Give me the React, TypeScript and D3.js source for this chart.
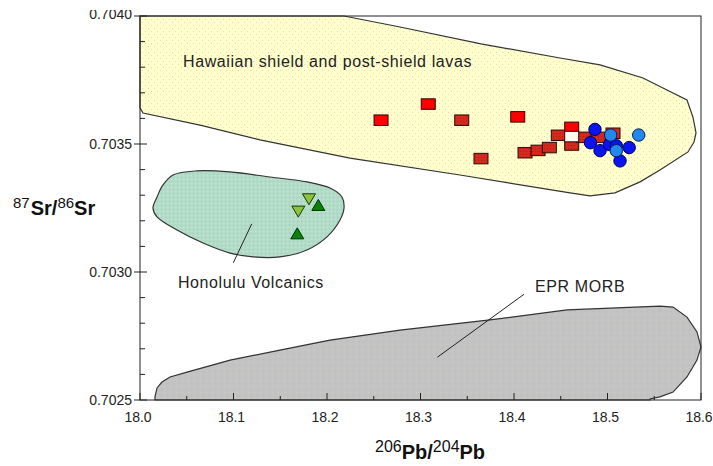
import React from 'react';
import * as d3 from 'd3';

const W = 713;
const H = 466;

const xDomain = [18.0, 18.6];
const yDomain = [0.7025, 0.704];

const xMajorTicks = [18.0, 18.1, 18.2, 18.3, 18.4, 18.5, 18.6];
const xMinorTicks = [18.05, 18.15, 18.25, 18.35, 18.45, 18.55];
const yMajorTicks = [0.7025, 0.703, 0.7035, 0.704];
const yMinorTicks = [0.7026, 0.7027, 0.7028, 0.7029, 0.7031, 0.7032, 0.7033, 0.7034, 0.7036, 0.7037, 0.7038, 0.7039];

// Hawaiian shield field boundary [206Pb/204Pb, 87Sr/86Sr]
const hawaiianField: [number, number][] = [
  [18.0, 0.704], [18.2182, 0.704], [18.2781, 0.703957], [18.3647, 0.703891], [18.4492, 0.703836],
  [18.492, 0.703809], [18.538, 0.703758], [18.5636, 0.703711], [18.585, 0.703672], [18.5914, 0.703605],
  [18.5947, 0.703543], [18.5925, 0.703508], [18.5861, 0.703469], [18.5561, 0.703398], [18.5348, 0.703352],
  [18.508, 0.703309], [18.4813, 0.703297], [18.4599, 0.703309], [18.3422, 0.703379], [18.2246, 0.703445],
  [18.1283, 0.703516], [18.0642, 0.703574], [18.0032, 0.703621], [18.0, 0.703641],
];

const honoluluField: [number, number][] = [
  [18.0353, 0.703379], [18.061, 0.703395], [18.0963, 0.703391], [18.139, 0.703371], [18.1786, 0.703352],
  [18.2032, 0.703328], [18.216, 0.703293], [18.2182, 0.70325], [18.2139, 0.703203], [18.2, 0.703137],
  [18.1786, 0.703086], [18.1497, 0.703059], [18.1209, 0.703059], [18.0963, 0.703074], [18.0674, 0.703113],
  [18.0396, 0.703164], [18.0182, 0.703215], [18.0139, 0.70325], [18.0182, 0.703293], [18.0246, 0.70334],
];

const eprField: [number, number][] = [
  [18.016, 0.7025], [18.016, 0.702512], [18.0182, 0.702547], [18.0235, 0.70257], [18.0321, 0.70259],
  [18.0503, 0.702609], [18.0963, 0.702656], [18.1497, 0.702695], [18.2032, 0.702734], [18.2781, 0.702773],
  [18.3743, 0.702813], [18.4567, 0.702852], [18.5561, 0.702867], [18.5701, 0.702863], [18.585, 0.702824],
  [18.5957, 0.702766], [18.6, 0.702707], [18.5957, 0.702656], [18.585, 0.70259], [18.5701, 0.702531],
  [18.5561, 0.702512], [18.5455, 0.702504], [18.5455, 0.7025],
];

const brightRedSquares: [number, number][] = [
  [18.2578, 0.703593], [18.3083, 0.703656], [18.404, 0.703606], [18.4617, 0.703565],
];
const darkRedSquares: [number, number][] = [
  [18.3441, 0.703593], [18.3647, 0.703443], [18.4118, 0.703466], [18.4257, 0.703475], [18.4378, 0.703486],
  [18.4474, 0.703534], [18.4617, 0.703496], [18.4741, 0.703526], [18.4902, 0.703526], [18.5059, 0.703542],
];
const openSquares: [number, number][] = [[18.4617, 0.703529]];

const darkBlueCircles: [number, number][] = [
  [18.4866, 0.703557], [18.4818, 0.703505], [18.492, 0.703474], [18.5021, 0.703498], [18.5094, 0.703493],
  [18.5232, 0.703486], [18.5134, 0.703434],
];
const lightBlueCircles: [number, number][] = [
  [18.5034, 0.703535], [18.5334, 0.703535], [18.5094, 0.703474],
];

const downTriangles: [number, number][] = [[18.1807, 0.703284], [18.1693, 0.703236]];
const upTriangles: [number, number][] = [[18.1907, 0.703262], [18.1682, 0.703151]];

const fieldLabels = [
  { text: 'Hawaiian shield and post-shield lavas', x: 18.046, y: 0.703801 },
  { text: 'Honolulu Volcanics', x: 18.0406, y: 0.702938 },
  { text: 'EPR MORB', x: 18.4225, y: 0.702922 },
];
const leaderLines: [number, number, number, number][] = [
  [18.1195, 0.703188, 18.0998, 0.703036],
  [18.4107, 0.702913, 18.318, 0.702667],
];

export default function App() {
  const x = d3.scaleLinear().domain(xDomain).range([140, 701]);
  const y = d3.scaleLinear().domain(yDomain).range([400, 16]);
  const lin = d3.line<[number, number]>().x(d => x(d[0])).y(d => y(d[1])).curve(d3.curveLinearClosed);
  const smooth = d3.line<[number, number]>().x(d => x(d[0])).y(d => y(d[1])).curve(d3.curveCatmullRomClosed);
  const fmtX = d3.format('.1f');
  const fmtY = d3.format('.4f');
  const font = 'Liberation Sans, Arial, sans-serif';
  const tri = (cx: number, cy: number, up: boolean) => {
    const s = 6.5, h = 5.5;
    return up
      ? `M${cx},${cy - h} L${cx + s},${cy + h} L${cx - s},${cy + h} Z`
      : `M${cx - s},${cy - h} L${cx + s},${cy - h} L${cx},${cy + h} Z`;
  };
  return (
    <svg width={W} height={H} style={{ position: 'absolute', left: 0, top: 0, background: '#fff' }} fontFamily={font}>
      <defs>
        <pattern id="pYellow" width="6" height="6" patternUnits="userSpaceOnUse">
          <rect width="6" height="6" fill="#ffffcc" />
          <rect x="1" y="1" width="1" height="1" fill="#f4cfc4" />
          <rect x="4" y="4" width="1" height="1" fill="#f4cfc4" />
        </pattern>
        <pattern id="pMint" width="4" height="4" patternUnits="userSpaceOnUse">
          <rect width="4" height="4" fill="#b3dcc8" />
          <rect x="1" y="1" width="1" height="1" fill="#a2ccb8" />
          <rect x="3" y="3" width="1" height="1" fill="#c4e8d6" />
        </pattern>
        <pattern id="pGray" width="6" height="6" patternUnits="userSpaceOnUse">
          <rect width="6" height="6" fill="#c3c3c3" />
          <rect x="2" y="2" width="1" height="1" fill="#d2d2b8" />
          <rect x="5" y="5" width="1" height="1" fill="#b8b8b8" />
        </pattern>
        <pattern id="pDarkRed" width="3" height="3" patternUnits="userSpaceOnUse">
          <rect width="3" height="3" fill="#d42a1e" />
          <rect x="1" y="1" width="1" height="1" fill="#b81c14" />
        </pattern>
        <clipPath id="topClip"><rect x="0" y="10" width={W} height={H} /></clipPath>
      </defs>

      {/* fields */}
      <path d={lin(hawaiianField) || ''} fill="url(#pYellow)" stroke="#333" strokeWidth={1.2} />
      <path d={smooth(honoluluField) || ''} fill="url(#pMint)" stroke="#333" strokeWidth={1.2} />
      <path d={lin(eprField) || ''} fill="url(#pGray)" stroke="#333" strokeWidth={1.2} />

      {/* leader lines */}
      {leaderLines.map((l, i) => (
        <line key={i} x1={x(l[0])} y1={y(l[1])} x2={x(l[2])} y2={y(l[3])} stroke="#222" strokeWidth={1} />
      ))}

      {/* labels */}
      {fieldLabels.map((l, i) => (
        <text key={i} x={x(l.x)} y={y(l.y)} fontSize={16} letterSpacing={0.6} fill="#222">{l.text}</text>
      ))}

      {/* frame */}
      <rect x={140} y={16} width={561} height={384} fill="none" stroke="#222" strokeWidth={1} />

      {/* y ticks */}
      {yMajorTicks.map((t, i) => (
        <g key={'ym' + i}>
          <line x1={134} x2={147} y1={y(t)} y2={y(t)} stroke="#222" />
          <text x={132} y={t === 0.704 ? 18.5 : y(t) + 5} textAnchor="end" fontSize={14} fill="#222"
            clipPath={t === 0.704 ? 'url(#topClip)' : undefined}>{fmtY(t)}</text>
        </g>
      ))}
      {yMinorTicks.map((t, i) => (
        <line key={'yn' + i} x1={140} x2={145} y1={y(t)} y2={y(t)} stroke="#222" />
      ))}

      {/* x ticks */}
      {xMajorTicks.map((t, i) => (
        <g key={'xm' + i}>
          <line x1={x(t)} x2={x(t)} y1={400} y2={393} stroke="#222" />
          <text x={x(t) - 2} y={422} textAnchor="middle" fontSize={14} fill="#222">{fmtX(t)}</text>
        </g>
      ))}
      {xMinorTicks.map((t, i) => (
        <line key={'xn' + i} x1={x(t)} x2={x(t)} y1={400} y2={396} stroke="#222" />
      ))}

      {/* data: squares */}
      {darkRedSquares.map((d, i) => (
        <rect key={'dr' + i} x={x(d[0]) - 7} y={y(d[1]) - 5.25} width={14} height={10.5} fill="url(#pDarkRed)" stroke="#2a0a08" strokeWidth={1} />
      ))}
      {brightRedSquares.map((d, i) => (
        <rect key={'br' + i} x={x(d[0]) - 7} y={y(d[1]) - 5.25} width={14} height={10.5} fill="#ff0000" stroke="#2a0a08" strokeWidth={1} />
      ))}
      {openSquares.map((d, i) => (
        <rect key={'os' + i} x={x(d[0]) - 7} y={y(d[1]) - 5.25} width={14} height={10.5} fill="#fffff0" stroke="#2a0a08" strokeWidth={1} />
      ))}

      {/* data: circles */}
      {darkBlueCircles.map((d, i) => (
        <circle key={'db' + i} cx={x(d[0])} cy={y(d[1])} r={6.2} fill="#0a14f0" stroke="#000050" strokeWidth={1} />
      ))}
      {lightBlueCircles.map((d, i) => (
        <circle key={'lb' + i} cx={x(d[0])} cy={y(d[1])} r={6.2} fill="#2288f0" stroke="#002050" strokeWidth={1} />
      ))}

      {/* data: triangles */}
      {downTriangles.map((d, i) => (
        <path key={'dt' + i} d={tri(x(d[0]), y(d[1]), false)} fill="#8cc43c" stroke="#1a3a00" strokeWidth={1} />
      ))}
      {upTriangles.map((d, i) => (
        <path key={'ut' + i} d={tri(x(d[0]), y(d[1]), true)} fill="#0a820a" stroke="#003000" strokeWidth={1} />
      ))}

      {/* axis titles */}
      <text x={13} y={215} fill="#111">
        <tspan fontSize={15} dy={-7}>87</tspan>
        <tspan fontSize={20} fontWeight="bold" dy={7} dx={1}>Sr/</tspan>
        <tspan fontSize={15} dy={-7}>86</tspan>
        <tspan fontSize={20} fontWeight="bold" dy={7}>Sr</tspan>
      </text>
      <text x={375} y={459} fill="#111">
        <tspan fontSize={16} dy={-7}>206</tspan>
        <tspan fontSize={20} fontWeight="bold" dy={7}>Pb/</tspan>
        <tspan fontSize={16} dy={-7}>204</tspan>
        <tspan fontSize={20} fontWeight="bold" dy={7}>Pb</tspan>
      </text>
    </svg>
  );
}
